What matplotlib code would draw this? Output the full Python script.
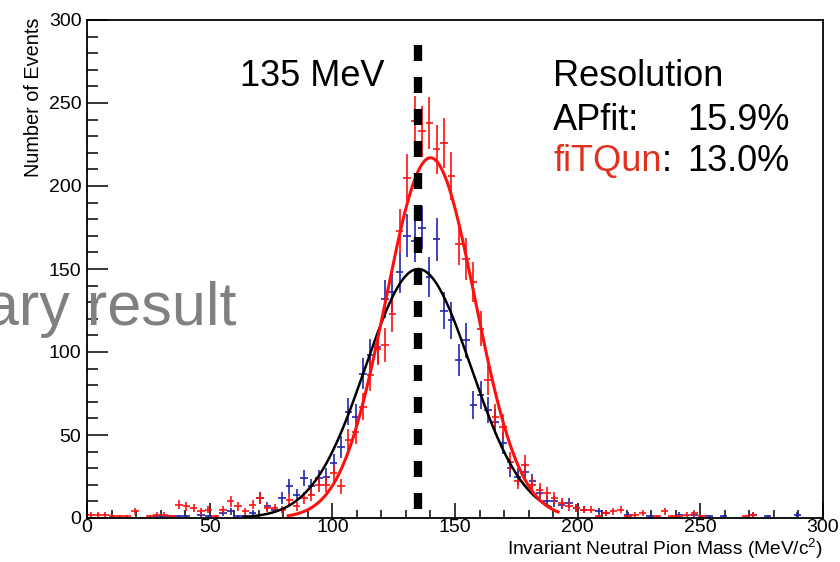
import numpy as np
import matplotlib
matplotlib.use("Agg")
import matplotlib.pyplot as plt
from matplotlib.ticker import MultipleLocator

plt.rcParams['font.family'] = ['Liberation Sans', 'DejaVu Sans']
plt.rcParams['mathtext.default'] = 'regular'

# histogram: 3 MeV bins from 0 to 300
bin_width = 3.0
bin_centers = np.arange(bin_width / 2, 300, bin_width)

# fiTQun (red)
red_counts = [
    2, 2, 2, 1, 1, 1, 4, 0, 1, 2,
    2, 1, 8, 7, 6, 4, 5, 1, 5, 10,
    7, 4, 8, 12, 6, 6, 5, 11, 7, 12,
    14, 20, 20, 27, 19, 47, 52, 67, 86, 102,
    104, 123, 173, 205, 239, 233, 238, 222, 226, 206,
    165, 156, 142, 114, 83, 61, 55, 34, 22, 32,
    20, 17, 15, 12, 9, 7, 6, 5, 5, 1,
    3, 4, 5, 1, 2, 3, 0, 1, 4, 1,
    1, 2, 3, 1, 0, 0, 0, 0, 0, 1,
    2, 0, 0, 0, 0, 0, 0, 0, 0, 0,
]

# APfit (blue)
blue_counts = [
    0, 0, 0, 0, 0, 0, 0, 0, 0, 1,
    1, 1, 1, 1, 0, 2, 1, 0, 3, 4,
    1, 1, 3, 12, 7, 5, 12, 19, 14, 24,
    19, 24, 25, 33, 43, 64, 61, 87, 98, 103,
    132, 136, 148, 170, 167, 175, 145, 168, 125, 119,
    95, 107, 68, 74, 65, 58, 45, 30, 25, 28,
    22, 15, 10, 10, 8, 9, 6, 5, 0, 4,
    3, 0, 0, 2, 0, 0, 1, 0, 0, 0,
    2, 0, 2, 0, 1, 0, 1, 0, 0, 0,
    2, 0, 1, 0, 0, 0, 2, 0, 0, 0,
]

# gaussian fit parameters (amplitude, mean, sigma, range)
red_fit = (217.0, 140.0, 18.2, 82.0, 192.0)
black_fit = (150.0, 135.0, 21.5, 64.0, 189.0)

pi0_mass = 135.0

red_col = '#ff1010'
blue_col = '#2424b0'
label_red = '#e0301e'

fig = plt.figure(figsize=(8.4, 5.62), dpi=100)
ax = fig.add_axes([87 / 840, 44 / 562, 736 / 840, 498 / 562])

def draw_hist(counts, color):
    c = np.array(counts, dtype=float)
    m = c > 0
    ax.errorbar(bin_centers[m], c[m], xerr=bin_width / 2, yerr=np.sqrt(c[m]),
                fmt='none', ecolor=color, elinewidth=1.2, capsize=0)

def draw_fit(par, color, lw):
    a, mu, sig, lo, hi = par
    xx = np.linspace(lo, hi, 300)
    ax.plot(xx, a * np.exp(-0.5 * ((xx - mu) / sig) ** 2), color=color, lw=lw)

draw_hist(blue_counts, blue_col)
draw_hist(red_counts, red_col)
draw_fit(black_fit, 'black', 1.8)
draw_fit(red_fit, red_col, 2.2)

# 135 MeV marker
ax.plot([pi0_mass, pi0_mass], [285, 0], color='black', lw=6, dashes=(1.92, 1.92))

ax.set_xlim(0, 300)
ax.set_ylim(0, 300)
ax.xaxis.set_major_locator(MultipleLocator(50))
ax.xaxis.set_minor_locator(MultipleLocator(10))
ax.yaxis.set_major_locator(MultipleLocator(50))
ax.yaxis.set_minor_locator(MultipleLocator(10))
ax.tick_params(axis='x', which='major', direction='in', length=11, width=1.1, labelsize=14, pad=1)
ax.tick_params(axis='x', which='minor', direction='in', length=5.5, width=1.1)
ax.tick_params(axis='y', which='major', direction='in', length=15, width=1.1, labelsize=14, pad=4)
ax.tick_params(axis='y', which='minor', direction='in', length=8, width=1.1)
for s in ax.spines.values():
    s.set_linewidth(1.3)

fig.text(823 / 840, 1 - 549 / 562, r'Invariant Neutral Pion Mass (MeV/c$^{2}$)',
         ha='right', va='center', fontsize=13.8)
fig.text(34 / 840, 1 - 18 / 562, 'Number of Events', rotation=90,
         ha='center', va='top', fontsize=14.3)

# annotations
big = 26
ax.text(62.4, 260, '135 MeV', fontsize=big, va='baseline', ha='left')
ax.text(190, 260, 'Resolution', fontsize=big, va='baseline', ha='left')
ax.text(190, 234, 'APfit:', fontsize=big, va='baseline', ha='left')
ax.text(244.6, 234, '15.9%', fontsize=big, va='baseline', ha='left')
fq = ax.text(190, 209, 'fiTQun', fontsize=big, va='baseline', ha='left', color=label_red)
ax.annotate(':', xy=(1, 0), xycoords=fq, fontsize=big, va='bottom', ha='left')
ax.text(244.6, 209, '13.0%', fontsize=big, va='baseline', ha='left')

fig.text(237 / 840, 1 - 325 / 562, 'Preliminary result', fontsize=44,
         color='#808080', ha='right', va='baseline')

fig.savefig('out.png', dpi=100)
